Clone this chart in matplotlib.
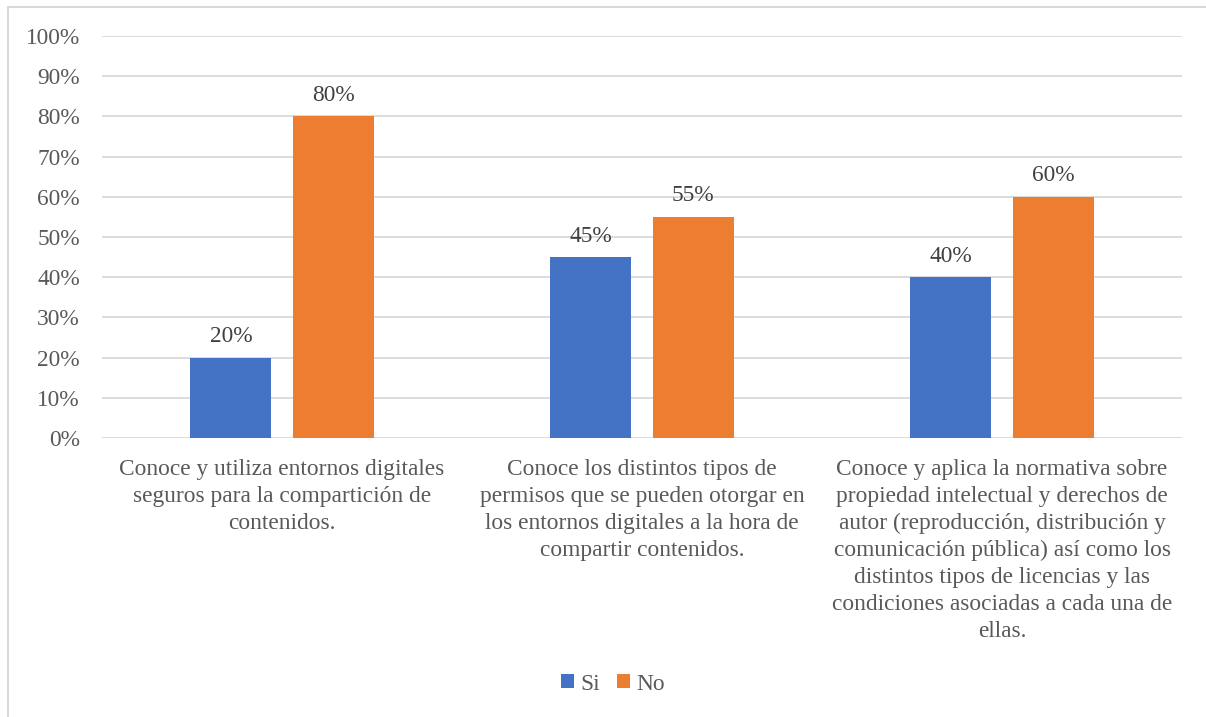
import matplotlib
matplotlib.use("Agg")
import matplotlib.pyplot as plt
from matplotlib.patches import Rectangle
from matplotlib.ticker import PercentFormatter
import numpy as np

categories = [
    "Conoce y utiliza entornos digitales\nseguros para la compartición de\ncontenidos.",
    "Conoce los distintos tipos de\npermisos que se pueden otorgar en\nlos entornos digitales a la hora de\ncompartir contenidos.",
    "Conoce y aplica la normativa sobre\npropiedad intelectual y derechos de\nautor (reproducción, distribución y\ncomunicación pública) así como los\ndistintos tipos de licencias y las\ncondiciones asociadas a cada una de\nellas.",
]
si = [20, 45, 40]
no = [80, 55, 60]
series_names = ["Si", "No"]

plt.rcParams["font.family"] = ["Liberation Serif", "DejaVu Serif"]
text_color = "#595959"
blue = "#4472C4"
orange = "#ED7D31"
fs = 16.8

fig = plt.figure(figsize=(12.06, 7.17), dpi=100)
ax = fig.add_axes([102 / 1206, 1 - 438 / 717, 1080 / 1206, 402 / 717])

# outer chart border
fig.patches.append(Rectangle((8 / 1206, -0.1), 1.2, 1 - 7 / 717 + 0.1,
                             transform=fig.transFigure, fill=False,
                             edgecolor="#D9D9D9", linewidth=1.5))

x = np.arange(len(categories))
width = 0.225
off = 0.1417
b1 = ax.bar(x - off, si, width, color=blue, label=series_names[0], zorder=3)
b2 = ax.bar(x + off, no, width, color=orange, label=series_names[1], zorder=3)

for bars, vals in ((b1, si), (b2, no)):
    for rect, v in zip(bars, vals):
        ax.annotate(f"{v}%", (rect.get_x() + rect.get_width() / 2, v),
                    xytext=(0, 7.5), textcoords="offset points",
                    ha="center", va="bottom", fontsize=fs, color="#404040")

ax.set_xlim(-0.5, 2.5)
ax.set_ylim(0, 100)
ax.set_yticks(np.arange(0, 101, 10))
ax.yaxis.set_major_formatter(PercentFormatter(decimals=0))
ax.grid(axis="y", color="#D9D9D9", linewidth=1.3, zorder=0)
ax.set_axisbelow(True)
for s in ax.spines.values():
    s.set_visible(False)
ax.tick_params(axis="y", length=0, labelsize=fs, labelcolor=text_color, pad=16)
ax.tick_params(axis="x", length=0)
ax.set_xticks(x)
ax.set_xticklabels(categories, fontsize=fs, color=text_color,
                   va="top", linespacing=1.37)
ax.tick_params(axis="x", pad=15)

leg = fig.legend(handles=[b1, b2], labels=series_names, loc="center",
                 bbox_to_anchor=(613 / 1206, 1 - 684 / 717), ncol=2,
                 frameon=False, fontsize=fs, handlelength=0.55,
                 handleheight=0.55, handletextpad=0.25, columnspacing=0.75,
                 labelcolor=text_color)

fig.savefig("out.png", dpi=100)
